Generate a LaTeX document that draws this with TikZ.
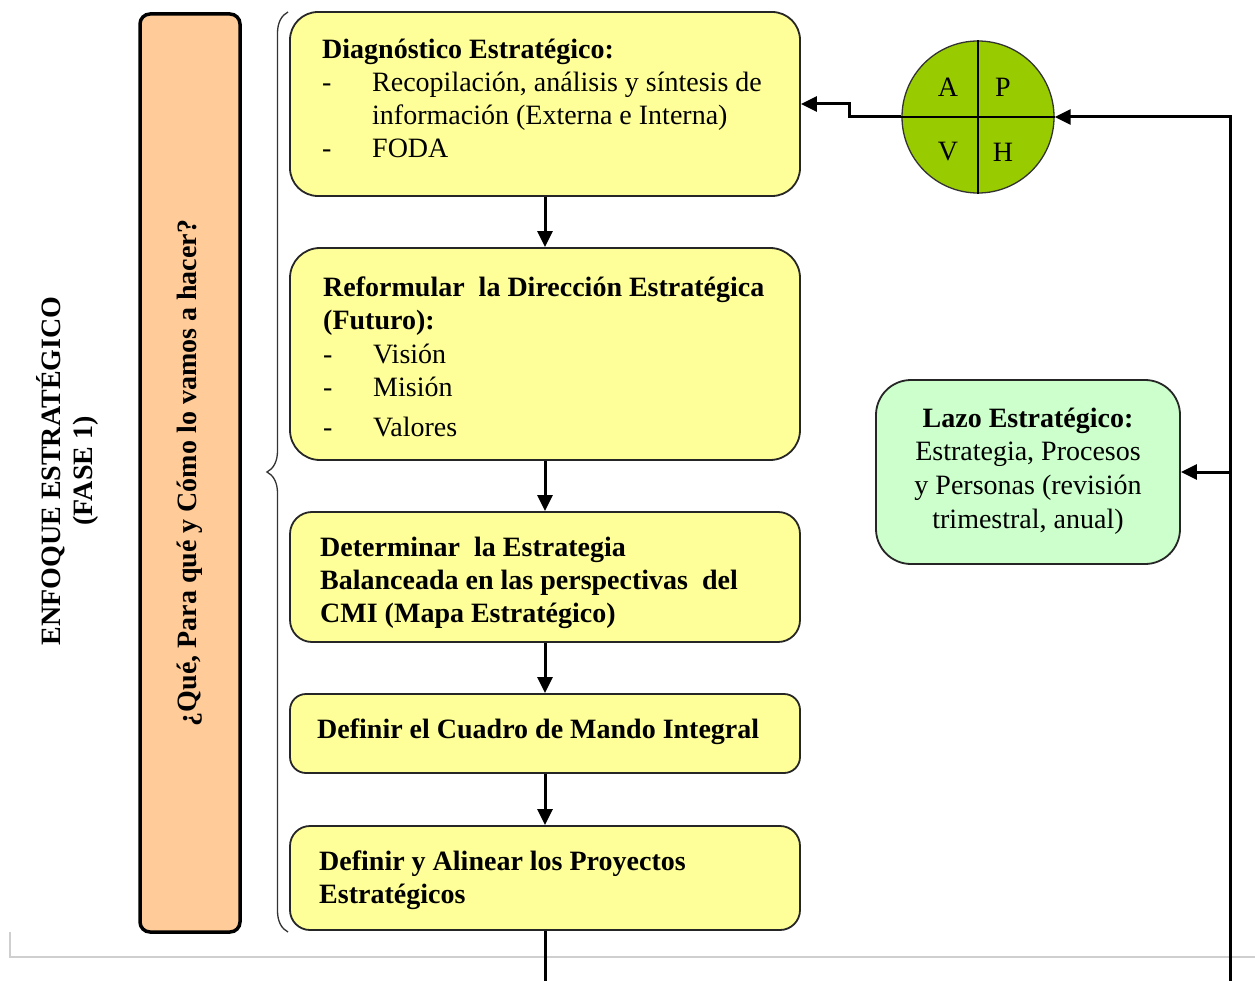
\documentclass[tikz,border=0pt]{standalone}
\usepackage{fontspec}
\setmainfont{Liberation Serif}
\usetikzlibrary{arrows.meta,decorations.pathreplacing}
\definecolor{byellow}{HTML}{FFFF99}
\definecolor{borange}{HTML}{FFCC99}
\definecolor{bgreen}{HTML}{CCFFCC}
\definecolor{cgreen}{HTML}{99CC00}
\definecolor{framegray}{HTML}{CFCFCF}
\begin{document}
\begin{tikzpicture}[x=1pt,y=-1pt,
  ybox/.style={draw=black!85, line width=1.8pt, fill=byellow, inner sep=0pt},
  gbox/.style={draw=black!85, line width=1.8pt, fill=bgreen, inner sep=0pt},
  txt/.style={anchor=base west, inner sep=0pt, font=\fontsize{28}{33}\selectfont},
  bt/.style={txt, font=\fontsize{28}{33}\selectfont\bfseries},
  ctxt/.style={txt, anchor=base},
  cbt/.style={bt, anchor=base},
  conn/.style={line width=3pt, draw=black},
  arr/.style={conn, -{Triangle[length=16pt,width=15pt]}},
]
\useasboundingbox (0,0) rectangle (1255,981);
\fill[white] (0,0) rectangle (1255,981);

% gray frame
\draw[framegray, line width=2pt] (10,932) -- (10,957) -- (1255,957);

% left rotated title
\node[rotate=90, align=center, inner sep=0pt, font=\fontsize{28}{32}\selectfont\bfseries] (title) at (67,471)
  {ENFOQUE ESTRATÉGICO\\(FASE 1)};

% orange box
\node[rotate=90, draw=black, line width=3.5pt, fill=borange, rounded corners=10pt,
      minimum width=918pt, minimum height=100pt, inner sep=0pt,
      font=\fontsize{28}{33}\selectfont\bfseries] (orange) at (190,473)
  {¿Qué, Para qué y Cómo lo vamos a hacer?};

% brace
\draw[black!80, line width=1.3pt, decorate, decoration={brace, amplitude=21pt, aspect=0.5}]
  (288,932) -- (288,12);

% yellow boxes
\node[ybox, rounded corners=28pt, minimum width=510pt, minimum height=184pt] (b1) at (545,104) {};
\node[ybox, rounded corners=30pt, minimum width=510pt, minimum height=212pt] (b2) at (545,354) {};
\node[ybox, rounded corners=22pt, minimum width=510pt, minimum height=130pt] (b3) at (545,577) {};
\node[ybox, rounded corners=16pt, minimum width=510pt, minimum height=79pt] (b4) at (545,733.5) {};
\node[ybox, rounded corners=20pt, minimum width=510pt, minimum height=104pt] (b5) at (545,878) {};

% green box
\node[gbox, rounded corners=35pt, minimum width=304pt, minimum height=184pt] (g) at (1028,472) {};

% circle
\node[circle, draw=black!80, line width=1.3pt, fill=cgreen, minimum size=152pt, inner sep=0pt] (c) at (978,117) {};
\draw[line width=2.5pt] (c.north) -- (c.south);
\draw[line width=2.5pt] (c.west) -- (c.east);
\node[font=\fontsize{28}{33}\selectfont, inner sep=0pt] (cA) at (948,87) {A};
\node[font=\fontsize{28}{33}\selectfont, inner sep=0pt] (cP) at (1003,87) {P};
\node[font=\fontsize{28}{33}\selectfont, inner sep=0pt] (cV) at (948,152) {V};
\node[font=\fontsize{28}{33}\selectfont, inner sep=0pt] (cH) at (1003,152) {H};

% texts box 1
\node[bt] (t11) at (322,59) {Diagnóstico Estratégico:};
\node[txt] (d12) at (322,92) {-};
\node[txt] (t12) at (372,92) {Recopilación, análisis y síntesis de};
\node[txt] (t13) at (372,125) {información (Externa e Interna)};
\node[txt] (d14) at (322,158) {-};
\node[txt] (t14) at (372,158) {FODA};

% texts box 2
\node[bt] (t21) at (323,297) {Reformular\ \ la Dirección Estratégica};
\node[bt] (t22) at (323,330) {(Futuro):};
\node[txt] (d23) at (323,363) {-};
\node[txt] (t23) at (373,363) {Visión};
\node[txt] (d24) at (323,396) {-};
\node[txt] (t24) at (373,396) {Misión};
\node[txt] (d25) at (323,436) {-};
\node[txt] (t25) at (373,436) {Valores};

% texts box 3
\node[bt] (t31) at (320,556) {Determinar\ \ la Estrategia};
\node[bt] (t32) at (320,589) {Balanceada en las perspectivas\ \ del};
\node[bt] (t33) at (320,622) {CMI (Mapa Estratégico)};

% text box 4
\node[bt] (t41) at (317,738) {Definir el Cuadro de Mando Integral};

% texts box 5
\node[bt] (t51) at (319,870) {Definir y Alinear los Proyectos};
\node[bt] (t52) at (319,903) {Estratégicos};

% green texts
\node[cbt] (g1) at (1028,427) {Lazo Estratégico:};
\node[ctxt] (g2) at (1028,460) {Estrategia, Procesos};
\node[ctxt] (g3) at (1028,494) {y Personas (revisión};
\node[ctxt] (g4) at (1028,528) {trimestral, anual)};

% connectors
\draw[arr] (b1.south) -- (b2.north);
\draw[arr] (b2.south) -- (b3.north);
\draw[arr] (b3.south) -- (b4.north);
\draw[arr] (b4.south) -- (b5.north);

\coordinate (botR) at (1230,982.3);
\coordinate (tap) at (1230,472);
\draw[arr] (b5.south) |- (botR) |- (c.east);
\draw[arr] (tap) -- (g.east);
\draw[arr] (c.west) -- ++(-52,0) |- (b1.east);
\end{tikzpicture}
\end{document}
